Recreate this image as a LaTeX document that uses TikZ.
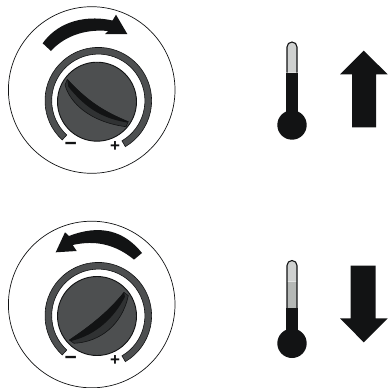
\documentclass[tikz,border=0pt]{standalone}
\usepackage{fontspec}
\setmainfont{Liberation Sans}
\definecolor{dialgray}{HTML}{4D4F50}
\definecolor{band}{HTML}{303233}
\definecolor{ink}{HTML}{121314}
\definecolor{glass}{HTML}{CFD1D0}
\definecolor{glassmid}{HTML}{B5B8B6}
\tikzset{
  face/.style={draw=ink,line width=0.7pt,fill=white},
  ringshape/.style={draw=ink,line width=0.6pt,fill=dialgray},
  knobshape/.style={draw=ink,line width=0.9pt,fill=dialgray},
  solid ink/.style={fill=ink,draw=none},
  bandshape/.style={fill=band,draw=ink,line width=0.6pt},
  glassline/.style={draw=ink,line width=1.1pt},
  plus sign/.style={font=\bfseries\fontsize{17}{17}\selectfont,inner sep=0pt,text=ink},
  minus sign/.style={font=\bfseries\fontsize{21}{21}\selectfont,inner sep=0pt,text=ink}
}
\begin{document}
\begin{tikzpicture}[x=1pt,y=1pt,yscale=-1]
\useasboundingbox (0,0) rectangle (388,388);
% top dial
\draw[face] (91.7,90) circle[radius=83.3];
\path[solid ink] (42.7,43.3) .. controls (55,25.5) and (80,13.5) .. (112.5,20.5) -- (116,14.7) -- (127.3,34) -- (105,34) -- (108,31) .. controls (82,28.5) and (62,38.5) .. (51,51) -- cycle;
\draw[ringshape] (98.3,100.7) ++(132.6:53.3) arc[start angle=132.6,end angle=419.5,radius=53.3] -- ++(419.5:-6.7) arc[start angle=419.5,end angle=132.6,radius=46.6] -- cycle;
\draw[knobshape] (97,101.7) circle[radius=39.5];
\draw[bandshape] (67.3,79.3) -- (65,85) .. controls (70,103) and (90,122) .. (126,126.7) -- (128.3,121.7) .. controls (105,112) and (88,102) .. cycle;
\path[solid ink] (67.3,79.3) -- (68.3,86.7) .. controls (84,106) and (100,118) .. (127,122.5) -- (128.3,121.7) .. controls (105,112) and (88,102) .. cycle;
\node[minus sign] at (70.7,146.5) {−};
\node[plus sign] at (115,146.5) {+};
% bottom dial
\draw[face] (91.7,304.5) circle[radius=83.3];
\path[solid ink] (142,253) .. controls (124,230.5) and (100,224) .. (69,236) -- (65,232.3) -- (55.7,252.3) -- (76.7,251) -- (72.7,245) .. controls (95,240) and (115,244) .. (134,259.6) -- cycle;
\draw[ringshape] (98.3,315.7) ++(132.6:53.3) arc[start angle=132.6,end angle=419.5,radius=53.3] -- ++(419.5:-6.7) arc[start angle=419.5,end angle=132.6,radius=46.6] -- cycle;
\draw[knobshape] (97,316) circle[radius=39.5];
\draw[bandshape] (124,292.3) -- (128.3,295.7) .. controls (122,325) and (100,342) .. (74,343.3) -- (69.3,340) .. controls (92,325) and (110,310) .. cycle;
\path[solid ink] (124,292.3) -- (125,296.7) .. controls (114,318) and (96,335) .. (71,341) -- (69.3,340) .. controls (92,325) and (110,310) .. cycle;
\node[minus sign] at (70.7,360.5) {−};
\node[plus sign] at (115,360.5) {+};
% top thermometer
\fill[glass] (287,72.7) -- (287,47) arc[start angle=180,end angle=360,radius=5] -- (297,72.7) -- cycle;
\draw[glassline] (287,72.7) -- (287,47) arc[start angle=180,end angle=360,radius=5] -- (297,72.7);
\path[solid ink] (286.4,72.7) rectangle (297.6,120);
\path[solid ink] (292,125) circle[radius=14.7];
% top arrow
\path[solid ink] (363.7,50.7) -- (387.7,74.3) -- (376,74.3) -- (376,127.3) -- (352,127.3) -- (352,74.3) -- (340,74.3) -- cycle;
% bottom thermometer
\fill[glass] (287,281.7) -- (287,265.5) arc[start angle=180,end angle=360,radius=5] -- (297,281.7) -- cycle;
\fill[glassmid] (287,281.7) rectangle (297,308.3);
\draw[glassline] (287,308.3) -- (287,265.5) arc[start angle=180,end angle=360,radius=5] -- (297,308.3);
\path[solid ink] (286.4,308.3) rectangle (297.6,335);
\path[solid ink] (292,343.3) circle[radius=14.7];
% bottom arrow
\path[solid ink] (350.7,265.7) -- (375.7,265.7) -- (375.7,318.3) -- (387.7,318.3) -- (363.7,342.3) -- (340,318.3) -- (350.7,318.3) -- cycle;
\end{tikzpicture}
\end{document}
